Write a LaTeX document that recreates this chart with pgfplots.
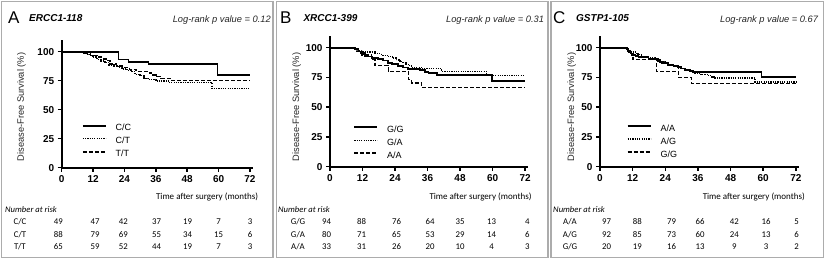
\documentclass[border=0pt]{standalone}
\usepackage{fontspec}
\setmainfont{Liberation Sans}
\newfontfamily\cali{Carlito}
\usepackage{pgfplots}
\pgfplotsset{compat=1.18}
\tikzset{
 ss/.style={black, line width=1.7pt},
 dt/.style={black, line width=1.4pt, dash pattern=on 1.2pt off 1.1pt},
 ds/.style={black, line width=1.5pt, dash pattern=on 4pt off 2pt},
}
\pgfplotsset{km/.style={
 scale only axis, axis lines=left, axis line style={-, line width=1.6pt},
 xmin=0, xmax=73, ymin=0, ymax=110,
 xtick={0,12,24,36,48,60,72}, ytick={0,25,50,75,100},
 xticklabels={0,12,24,36,48,60,72}, yticklabels={0,25,50,75,100},
 tick align=outside, major tick length=4pt, tick style={line width=1.5pt, black},
 every tick label/.append style={font=\fontseries{b}\fontsize{10}{10}\selectfont},
 /pgf/number format/assume math mode=true,
 clip=false,
 legend style={draw=none, fill=none, inner sep=0pt, font=\fontsize{9}{9}\selectfont,
   nodes={inner sep=0pt, text height=6pt, text depth=1pt}, row sep=6pt,
   /tikz/every odd column/.append style={column sep=9pt}},
 legend cell align=left,
 legend image code/.code={\draw[#1] (0pt,2.5pt) -- (23pt,2.5pt);},
}}
\newcommand\tbl{\cali\fontsize{8.8}{8.8}\selectfont}
\begin{document}
\begin{tikzpicture}
\useasboundingbox (0pt,0pt) rectangle (825pt,-260pt);
% frames
\draw[gray!65, line width=1.3pt] (1.5pt,-1.5pt) rectangle (273pt,-257.5pt);
\draw[gray!65, line width=1.3pt] (276.5pt,-1.5pt) rectangle (548pt,-257.5pt);
\draw[gray!65, line width=1.3pt] (551pt,-1.5pt) rectangle (823.5pt,-257.5pt);

% ---------- Panel A ----------
\begin{axis}[km, at={(61.7pt,-167.7pt)}, anchor=south west, width=190.9pt, height=127.6pt,
  legend style={at={(axis cs:7.65,37.2)}, anchor=north west}]
\addplot[ss, const plot] coordinates {(0,100)(21.7,93.4)(25.5,91.4)(33.2,89.1)(59.6,79.9)(72,79.9)};
\addplot[dt, const plot] coordinates {(0,100)(8.3,98.9)(9.5,97.7)(10.5,96.6)(12,95.4)(13.5,93.2)(15,92)(16.5,90.8)(18,88.6)(20,87.4)(22,86.2)(23,85.1)(25,83.9)(26.5,82.7)(28,80.4)(30,79.3)(31.5,77)(33,75.9)(36,74.7)(40.8,73.5)(57.4,68.5)(72,68.5)};
\addplot[ds, const plot] coordinates {(0,100)(9,98.5)(11,96.9)(14,95.4)(16,93.8)(17.5,92.3)(18.5,89.2)(21,87.7)(24,86.2)(26,84.6)(28.5,83.1)(33.5,81.5)(35,80)(36.5,78.5)(38,76.9)(41.4,75.3)(72,75.3)};
\legend{C/C, C/T, T/T}
\end{axis}

% ---------- Panel B ----------
\begin{axis}[km, at={(330pt,-166.7pt)}, anchor=south west, width=197.8pt, height=130.9pt,
  legend style={at={(axis cs:8.6,34.2)}, anchor=north west}]
\addplot[ss, const plot] coordinates {(0,100)(9.3,98.9)(10.5,96.8)(11.5,95.7)(12.5,94.7)(13,92.6)(15.4,91.5)(17.8,90.4)(19.5,89.3)(21.5,87.2)(23,86.1)(25.2,84.4)(27,83.3)(28.9,82.3)(33.2,81)(35,79.8)(36.3,78.7)(39.4,76.8)(59.7,72.3)(72,72.3)};
\addplot[dt, const plot] coordinates {(0,100)(8.5,98.8)(10,97.5)(11.7,96.3)(16.6,95)(19,93.7)(21.5,92.4)(23,91.2)(24.5,89.9)(25.5,88.7)(26.4,87.4)(28,86.1)(29,84.9)(30.1,83.6)(33.8,82.4)(41.2,80.2)(57.8,76.5)(72,76.5)};
\addplot[ds, const plot] coordinates {(0,100)(9.5,97)(11.7,94)(15.4,90)(16.6,85.2)(21.5,80.2)(28.9,73.1)(30.1,70.3)(33.8,66.7)(72,66.7)};
\legend{G/G, G/A, A/A}
\end{axis}

% ---------- Panel C ----------
\begin{axis}[km, at={(600pt,-166.7pt)}, anchor=south west, width=198.6pt, height=130.9pt,
  legend style={at={(axis cs:9.8,35.2)}, anchor=north west}]
\addplot[ss, const plot] coordinates {(0,100)(9.8,99)(10.4,97)(11,96)(11.6,94.1)(13,93)(14.1,91.9)(17.8,90.5)(21.4,89.1)(22,88.1)(22.7,87.1)(25.1,85.7)(27,84.6)(28.8,83.5)(30,82.5)(31.2,81.5)(33,80.4)(34.3,79.3)(59.4,75.1)(72,75.1)};
\addplot[dt, const plot] coordinates {(0,100)(9.8,98.9)(10.5,97.8)(11.6,96.4)(13,95.3)(14,94.1)(15.3,92.8)(17,91.7)(20.2,89.9)(22,88.6)(23.9,87.1)(25,85.9)(26.5,84.8)(28,83.6)(28.8,82.4)(31,81.2)(33,80)(34.9,78.7)(37,77.6)(39.8,76.5)(41,75.5)(42.3,74.5)(57,71.2)(72,71.2)};
\addplot[ds, const plot] coordinates {(0,100)(10.4,95)(12.2,90)(20.8,80)(28.8,75)(33.7,70)(72,70)};
\legend{A/A, A/G, G/G}
\end{axis}

% ---------- titles ----------
\foreach \xl/\xn/\xr/\L/\N/\P in {8/29/271/A/ERCC1-118/0.12, 280/303.3/544.3/B/XRCC1-399/0.31, 553/576/818.3/C/GSTP1-105/0.67}{
  \node[anchor=base west, inner sep=0pt, font=\fontsize{17}{17}\selectfont] at ({\xl*1pt},-23pt) {\L};
  \node[anchor=base west, inner sep=0pt, font=\fontsize{10}{10}\selectfont\bfseries\itshape] at ({\xn*1pt},-21.5pt) {\N};
  \node[anchor=base east, inner sep=0pt, font=\fontsize{9.3}{9.3}\selectfont\itshape, text=black!85] at ({\xr*1pt},-22pt) {Log-rank p value = \P};
}
% y labels
\foreach \x in {21.5, 296.7, 571.7}{
  \node[rotate=90, inner sep=0pt, font=\fontsize{9.3}{9.3}\selectfont, text=black!85] at ({\x*1pt},-107pt) {Disease-Free Survival (\%)};
}
% x labels
\foreach \x in {258.3, 531.7, 805}{
  \node[anchor=base east, inner sep=0pt, font=\cali\fontsize{9}{9}\selectfont] at ({\x*1pt},-199pt) {Time after surgery (months)};
}
% number at risk
\foreach \x in {5, 278, 553}{
  \node[anchor=base west, inner sep=0pt, font=\cali\itshape\fontsize{8.6}{8.6}\selectfont] at ({\x*1pt},-212.7pt) {Number at risk};
}
% Panel A table
\foreach \y/\lab/\a/\b/\c/\d/\e/\f/\g in {224.7/C\slash C/49/47/42/37/19/7/3, 237.2/C\slash T/88/79/69/55/34/15/6, 249.7/T\slash T/65/59/52/44/19/7/3}{
  \node[anchor=base, inner sep=0pt, font=\tbl] at (20pt,{-\y*1pt}) {\lab};
  \foreach \x/\n in {58.3/\a, 95/\b, 123.3/\c, 156.7/\d, 187.7/\e, 218.7/\f, 250/\g}
    \node[anchor=base, inner sep=0pt, font=\tbl] at ({\x*1pt},{-\y*1pt}) {\n};
}
% Panel B table
\foreach \y/\lab/\a/\b/\c/\d/\e/\f/\g in {224.7/G\slash G/94/88/76/64/35/13/4, 237.2/G\slash A/80/71/65/53/29/14/6, 249.7/A\slash A/33/31/26/20/10/4/3}{
  \node[anchor=base, inner sep=0pt, font=\tbl] at (298pt,{-\y*1pt}) {\lab};
  \foreach \x/\n in {326.7/\a, 361.7/\b, 396.7/\c, 430/\d, 460/\e, 491.7/\f, 527.3/\g}
    \node[anchor=base, inner sep=0pt, font=\tbl] at ({\x*1pt},{-\y*1pt}) {\n};
}
% Panel C table
\foreach \y/\lab/\a/\b/\c/\d/\e/\f/\g in {224.7/A\slash A/97/88/79/66/42/16/5, 237.2/A\slash G/92/85/73/60/24/13/6, 249.7/G\slash G/20/19/16/13/9/3/2}{
  \node[anchor=base, inner sep=0pt, font=\tbl] at (570pt,{-\y*1pt}) {\lab};
  \foreach \x/\n in {606.7/\a, 637.3/\b, 671.7/\c, 700/\d, 734.3/\e, 766/\f, 796.7/\g}
    \node[anchor=base, inner sep=0pt, font=\tbl] at ({\x*1pt},{-\y*1pt}) {\n};
}
\end{tikzpicture}
\end{document}
